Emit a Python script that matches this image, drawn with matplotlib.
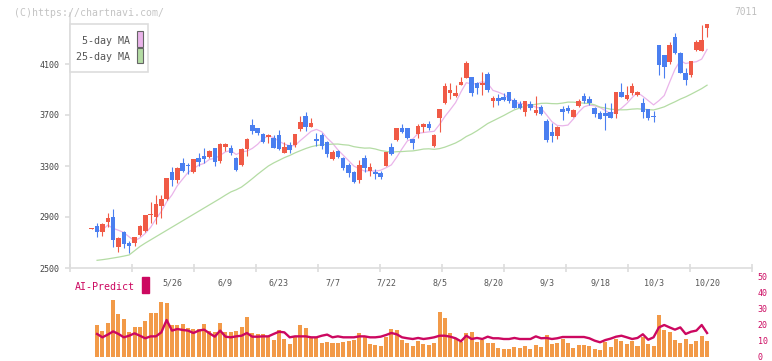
import numpy as np
import matplotlib.pyplot as plt
from matplotlib.patches import Rectangle

# 24 closes before the visible window, only used to feed the moving averages
prior_close = [2680, 2722, 2745, 2545, 2563, 2491, 2450, 1918, 2007, 2241, 2301,
               2377, 2416, 2583, 2565, 2662, 2638, 2673, 2728, 2709, 2730, 2795, 2709, 2848]

open_ = [2808, 2829, 2785, 2863, 2900, 2667, 2782, 2696, 2698, 2759,
         2793, 2916, 2898, 2986, 3041, 3255, 3190, 3326, 3310, 3255,
         3365, 3378, 3373, 3439, 3339, 3447, 3443, 3365, 3308, 3436,
         3622, 3598, 3553, 3525, 3522, 3543, 3402, 3465, 3465, 3588,
         3692, 3608, 3512, 3543, 3491, 3355, 3418, 3365, 3308, 3255,
         3190, 3365, 3263, 3255, 3247, 3302, 3447, 3504, 3596, 3596,
         3509, 3549, 3603, 3629, 3457, 3679, 3792, 3875, 3849, 3938,
         3993, 3996, 3953, 3935, 4021, 3812, 3831, 3844, 3878, 3818,
         3786, 3726, 3786, 3713, 3760, 3655, 3569, 3538, 3747, 3757,
         3687, 3770, 3851, 3823, 3752, 3718, 3718, 3726, 3706, 3878,
         3823, 3875, 3857, 3792, 3745, 3694, 4249, 4170, 4118, 4309,
         4184, 4032, 4014, 4210, 4202, 4385]
high = [2815, 2855, 2855, 2934, 2963, 2745, 2790, 2712, 2745, 2837,
        2918, 3018, 3073, 3073, 3208, 3290, 3290, 3363, 3326, 3355,
        3400, 3443, 3422, 3441, 3483, 3483, 3465, 3373, 3439, 3517,
        3669, 3600, 3556, 3549, 3543, 3582, 3491, 3491, 3553, 3694,
        3721, 3674, 3556, 3556, 3493, 3425, 3425, 3367, 3321, 3261,
        3347, 3386, 3321, 3274, 3263, 3410, 3478, 3600, 3629, 3598,
        3512, 3629, 3640, 3653, 3551, 3747, 3949, 3953, 3935, 4000,
        4126, 3998, 3955, 4040, 4040, 3851, 3865, 3870, 3880, 3831,
        3806, 3810, 3810, 3851, 3778, 3666, 3640, 3614, 3770, 3778,
        3745, 3823, 3870, 3849, 3765, 3734, 3792, 3792, 3880, 3949,
        3927, 3953, 3888, 3831, 3747, 3734, 4250, 4172, 4275, 4341,
        4197, 4066, 4126, 4288, 4406, 4413]
low = [2805, 2741, 2753, 2824, 2667, 2628, 2657, 2620, 2675, 2753,
       2785, 2851, 2845, 2894, 3030, 3145, 3164, 3255, 3235, 3243,
       3302, 3321, 3365, 3302, 3326, 3420, 3386, 3261, 3302, 3381,
       3549, 3546, 3478, 3478, 3440, 3425, 3400, 3404, 3451, 3574,
       3571, 3606, 3457, 3433, 3373, 3347, 3365, 3269, 3211, 3164,
       3169, 3255, 3222, 3198, 3198, 3300, 3386, 3498, 3556, 3512,
       3433, 3517, 3569, 3582, 3451, 3564, 3784, 3825, 3839, 3936,
       3988, 3851, 3862, 3857, 3878, 3760, 3778, 3806, 3792, 3752,
       3747, 3694, 3739, 3700, 3697, 3491, 3491, 3509, 3661, 3713,
       3682, 3765, 3792, 3778, 3687, 3669, 3582, 3674, 3679, 3839,
       3818, 3857, 3851, 3679, 3661, 3647, 4014, 3993, 4098, 4178,
       4027, 3935, 4000, 4202, 4200, 4314]
close = [2812, 2780, 2847, 2895, 2720, 2738, 2691, 2675, 2743, 2832,
         2916, 2926, 3002, 3041, 3208, 3190, 3287, 3263, 3298, 3353,
         3334, 3355, 3420, 3334, 3473, 3475, 3400, 3269, 3433, 3509,
         3577, 3561, 3491, 3543, 3443, 3433, 3449, 3425, 3551, 3643,
         3608, 3635, 3498, 3459, 3392, 3412, 3373, 3287, 3248, 3177,
         3308, 3282, 3295, 3237, 3211, 3407, 3394, 3596, 3569, 3522,
         3478, 3614, 3629, 3596, 3543, 3745, 3927, 3896, 3875, 3959,
         4110, 3875, 3909, 3953, 3896, 3831, 3806, 3818, 3806, 3757,
         3757, 3806, 3752, 3739, 3706, 3504, 3538, 3603, 3726, 3734,
         3739, 3812, 3810, 3792, 3706, 3671, 3694, 3679, 3878, 3844,
         3857, 3927, 3878, 3726, 3679, 3687, 4092, 4079, 4249, 4184,
         4032, 3974, 4124, 4275, 4288, 4411]

# volume and AI-Predict start at the second session
volume = [20.0, 16.25, 21.25, 35.6, 26.9, 23.75, 15.6, 18.75, 18.75, 22.5,
          27.5, 27.5, 34.4, 33.75, 20.0, 20.0, 20.6, 17.9, 17.5, 17.5,
          20.6, 16.25, 15.6, 21.25, 15.4, 15.4, 16.25, 18.5, 25.0, 14.8,
          14.2, 14.2, 13.3, 10.8, 17.1, 11.25, 8.1, 12.3, 20.0, 17.9,
          12.3, 12.3, 8.75, 9.4, 8.75, 8.75, 9.6, 10.0, 10.6, 15.0,
          13.3, 8.1, 7.5, 6.9, 12.5, 17.5, 16.9,
          10.6, 8.75, 6.9, 10.0, 8.1, 7.5, 8.75, 28.1, 24.4, 15.0,
          11.25, 9.4, 15.0, 15.6, 9.4, 10.6, 8.75, 8.75, 5.6, 5.0,
          5.0, 6.25, 5.6, 6.9, 5.0, 7.5, 6.25, 13.75, 8.1, 8.75,
          11.25, 8.75, 5.6, 7.5, 7.5, 6.9, 5.0, 4.4, 9.4, 6.25,
          11.25, 10.0, 8.1, 10.0, 6.9, 12.5, 8.1, 6.9, 26.25, 16.9,
          15.6, 10.6, 8.75, 11.25, 8.1, 10.0, 13.1, 10.0]
ai_predict = [14.4, 12.3, 14.0, 16.0, 14.4, 12.3, 13.3, 14.8, 13.3, 11.7,
              12.9, 12.9, 15.4, 23.1, 16.5, 17.5, 16.9, 16.5, 15.0, 16.5,
              17.1, 14.8, 12.7, 16.5, 12.7, 12.3, 12.9, 13.3, 15.0, 12.7,
              12.7, 12.9, 12.9, 14.4, 15.8, 15.4, 12.3, 12.9, 12.9, 12.9,
              12.3, 12.3, 13.3, 14.0, 12.3, 12.9, 12.3, 12.3, 12.3, 12.9,
              12.9, 12.3, 12.3, 12.7, 13.75, 15.0, 14.2,
              12.3, 11.7, 11.25, 11.9, 11.25, 11.7, 12.3, 13.3, 13.3, 12.7,
              11.7, 9.8, 13.3, 11.25, 11.9, 11.25, 12.7, 11.7, 11.7, 11.25,
              11.25, 11.9, 11.25, 11.25, 11.25, 12.9, 11.7, 11.9, 11.25, 11.7,
              12.5, 12.5, 12.5, 12.5, 12.5, 11.7, 10.2, 9.2, 10.6, 11.5,
              12.7, 13.3, 12.3, 11.25, 11.9, 14.2, 10.8, 12.3, 18.5, 20.0,
              18.5, 17.1, 18.5, 14.4, 15.8, 16.5, 20.0, 15.0]

date_labels = ['5/26', '6/9', '6/23', '7/7', '7/22', '8/5', '8/20', '9/3', '9/18', '10/3', '10/20']
date_pos = [15, 25, 35, 45, 55, 65, 75, 85, 95, 105, 115]
price_ticks = [2500, 2900, 3300, 3700, 4100]

RED = '#f05a46'
BLUE = '#4a7ff0'
PINK = '#eab4ea'
GREEN = '#b4dca4'
ORANGE = '#f29a48'
CRIMSON = '#cc0860'
MONO = 'DejaVu Sans Mono'

W, H = 772, 361
fig = plt.figure(figsize=(W / 100, H / 100), dpi=100)

x0, x1 = 70, 752
xmin, xmax = -4.06, 123.4

# volume + AI-Predict panel (drawn first, transparent, so date labels stay visible)
ax2 = fig.add_axes([x0 / W, 1 - 357 / H, (x1 - x0) / W, 80 / H])
ax2.patch.set_alpha(0)
ax2.set_xlim(xmin, xmax)
ax2.set_ylim(0, 50)
idx = np.arange(len(close))
ax2.bar(idx[1:], volume, width=0.75, color=ORANGE, lw=0)
ax2.plot(idx[1:], ai_predict, color=CRIMSON, lw=1.7)
for s in ax2.spines.values():
    s.set_visible(False)
ax2.set_xticks([])
ax2.yaxis.tick_right()
ax2.set_yticks([0, 10, 20, 30, 40, 50])
ax2.set_yticklabels(['0', '10', '20', '30', '40', '50'], fontfamily=MONO,
                    fontsize=6, color=CRIMSON)
ax2.tick_params(axis='y', length=0, pad=4)

ax = fig.add_axes([x0 / W, 1 - 268 / H, (x1 - x0) / W, 255 / H])
ax.patch.set_alpha(0)
ax.set_xlim(xmin, xmax)
ax.set_ylim(2500, 4500)

o = np.array(open_)
c = np.array(close)
up = c >= o
cols = np.where(up, RED, BLUE)

ax.vlines(idx, low, high, colors=cols, lw=0.8, zorder=3)
body = np.maximum(np.abs(c - o), 7)
ax.bar(idx, body, bottom=np.minimum(o, c), width=0.85, color=cols, lw=0, zorder=4)

all_close = np.array(prior_close + close, dtype=float)
ma25 = np.convolve(all_close, np.ones(25) / 25, mode='valid')
ma5 = np.convolve(all_close[20:], np.ones(5) / 5, mode='valid')
ax.plot(idx[1:], ma5[1:], color=PINK, lw=0.9, zorder=2)
ax.plot(idx[1:], ma25[1:], color=GREEN, lw=0.9, zorder=2)

for s in ['top', 'right']:
    ax.spines[s].set_visible(False)
for s in ['left', 'bottom']:
    ax.spines[s].set_color('#dddddd')
    ax.spines[s].set_linewidth(1.2)

grid_x = np.linspace(xmin, xmax, 12)
ax.set_xticks(grid_x)
ax.set_xticklabels([])
ax.tick_params(axis='x', direction='inout', length=6, width=1.2, color='#dddddd')
ax.set_yticks(price_ticks)
ax.set_yticklabels([str(p) for p in price_ticks], fontfamily=MONO, fontsize=6,
                   color='#444444')
ax.tick_params(axis='y', direction='out', length=3.6, width=1.2, color='#dddddd', pad=4)

for lab, p in zip(date_labels, date_pos):
    ax.text(p, -0.06, lab, transform=ax.get_xaxis_transform(), ha='center',
            va='center', fontsize=6, color='#555555', fontfamily=MONO)

fig.text(75 / W, 1 - 287 / H, 'AI-Predict', color=CRIMSON, fontsize=7.2,
         fontfamily=MONO, va='center', ha='left')
fig.patches.append(Rectangle((142 / W, 1 - 293 / H), 7 / W, 16 / H,
                             transform=fig.transFigure, color=CRIMSON))

# legend box
fig.patches.append(Rectangle((70 / W, 1 - 71.5 / H), 78 / W, 47.5 / H,
                             transform=fig.transFigure, fc='white', ec='#dddddd',
                             lw=1.2, zorder=5))
fig.patches.append(Rectangle((136.5 / W, 1 - 46.5 / H), 6 / W, 15.5 / H,
                             transform=fig.transFigure, fc=PINK, ec='#666666',
                             lw=0.8, zorder=6))
fig.patches.append(Rectangle((136.5 / W, 1 - 63 / H), 6 / W, 15 / H,
                             transform=fig.transFigure, fc=GREEN, ec='#666666',
                             lw=0.8, zorder=6))
fig.text(130 / W, 1 - 40.5 / H, '5-day MA', color='#555555', fontsize=7.2,
         fontfamily=MONO, ha='right', va='center', zorder=7)
fig.text(130 / W, 1 - 57.5 / H, '25-day MA', color='#555555', fontsize=7.2,
         fontfamily=MONO, ha='right', va='center', zorder=7)

fig.text(14 / W, 1 - 12.5 / H, '(C)https://chartnavi.com/', color='#c4c4c4',
         fontsize=7.1, fontfamily=MONO, ha='left', va='center')
fig.text(757 / W, 1 - 12 / H, '7011', color='#c0c0c0', fontsize=6.9,
         fontfamily=MONO, ha='right', va='center')

fig.savefig('out.png', dpi=100)
